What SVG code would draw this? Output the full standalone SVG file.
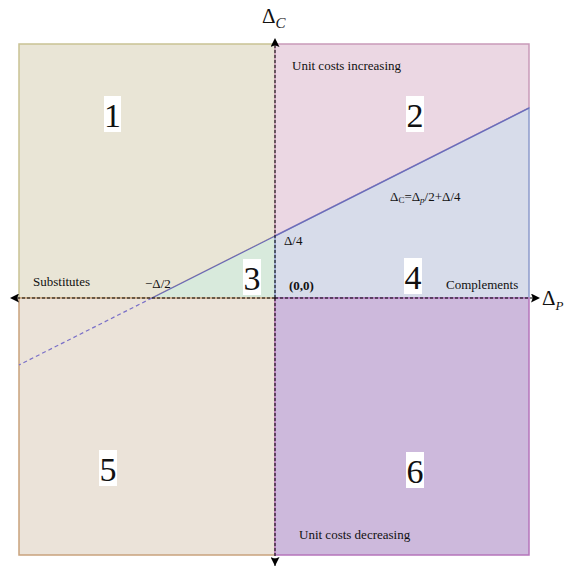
<svg xmlns="http://www.w3.org/2000/svg" width="565" height="567" viewBox="0 0 565 567">
<style>
text{font-family:"Liberation Serif","Times New Roman",serif;fill:#111}
.lbl{font-size:13px}
.num{font-size:34px}
.ax{font-size:21px}
.axis{stroke:#000;stroke-width:1;stroke-dasharray:3,2;fill:none}
.box{fill:#fff}
</style>
<defs>
<marker id="ah" viewBox="0 0 10 10" refX="10" refY="5" markerWidth="14" markerHeight="9" markerUnits="userSpaceOnUse" orient="auto">
<path d="M0,0 L10,5 L0,10 L2,5 Z" fill="#000"/>
</marker>
</defs>
<g id="region1"><polygon points="19,44 275,44 275,236 152,298 19,298" fill="#e9e5d6" stroke="#c9c294" stroke-width="1.5"/></g>
<g id="region2"><polygon points="275,44 529,44 529,108 275,236" fill="#ebd7e3" stroke="#c99ab9" stroke-width="1.5"/></g>
<g id="region3"><polygon points="152,298 275,236 275,298" fill="#d8eadc"/></g>
<g id="region4"><polygon points="275,236 529,108 529,298 275,298" fill="#d7dcea" stroke="#8d9acb" stroke-width="1.5"/></g>
<g id="region5"><rect x="19" y="298" width="256" height="257" fill="#ebe3d9" stroke="#c9a27c" stroke-width="1.5"/></g>
<g id="region6"><rect x="275" y="298" width="254" height="257" fill="#cdb9dc" stroke="#b574bb" stroke-width="1.5"/></g>
<g id="connectors">
<line x1="529" y1="108" x2="152" y2="298" stroke="#6a66b8" stroke-width="1.2"/>
<line x1="152" y1="298" x2="19" y2="365" stroke="#7a70c8" stroke-width="1.2" stroke-dasharray="4,3"/>
<line class="axis" x1="275" y1="298" x2="275" y2="38" marker-end="url(#ah)"/>
<line class="axis" x1="275" y1="298" x2="275" y2="566" marker-end="url(#ah)"/>
<line class="axis" x1="275" y1="298" x2="540" y2="298" marker-end="url(#ah)"/>
<line class="axis" x1="275" y1="298" x2="10" y2="298" marker-end="url(#ah)"/>
</g>
<g id="labels">
<text class="ax" x="262" y="23">Δ<tspan font-size="15" font-style="italic" dy="5">C</tspan></text>
<text class="ax" x="542" y="305">Δ<tspan font-size="13" font-style="italic" dy="5">P</tspan></text>
<text class="lbl" x="292" y="70">Unit costs increasing</text>
<text class="lbl" x="299" y="539">Unit costs decreasing</text>
<text class="lbl" x="33" y="286">Substitutes</text>
<text class="lbl" x="446" y="289">Complements</text>
<text class="lbl" x="145" y="288">−Δ/2</text>
<text class="lbl" x="284" y="245">Δ/4</text>
<text class="lbl" x="289" y="290" font-weight="bold">(0,0)</text>
<text class="lbl" x="390" y="201">Δ<tspan font-size="9" dy="2">C</tspan><tspan dy="-2">=Δ</tspan><tspan font-size="9" font-style="italic" dy="2">p</tspan><tspan dy="-2">/2+Δ/4</tspan></text>
</g>
<g id="n1"><rect class="box" x="104" y="96" width="17" height="36"/><text class="num" x="112.5" y="127" text-anchor="middle">1</text></g>
<g id="n2"><rect class="box" x="406" y="96" width="18" height="36"/><text class="num" x="415" y="127" text-anchor="middle">2</text></g>
<g id="n3"><rect class="box" x="243" y="259" width="18" height="36"/><text class="num" x="252" y="290" text-anchor="middle">3</text></g>
<g id="n4"><rect class="box" x="404" y="258" width="18" height="36"/><text class="num" x="413" y="289" text-anchor="middle">4</text></g>
<g id="n5"><rect class="box" x="99" y="450" width="18" height="36"/><text class="num" x="108" y="481" text-anchor="middle">5</text></g>
<g id="n6"><rect class="box" x="406" y="452" width="18" height="36"/><text class="num" x="415" y="483" text-anchor="middle">6</text></g>
</svg>
